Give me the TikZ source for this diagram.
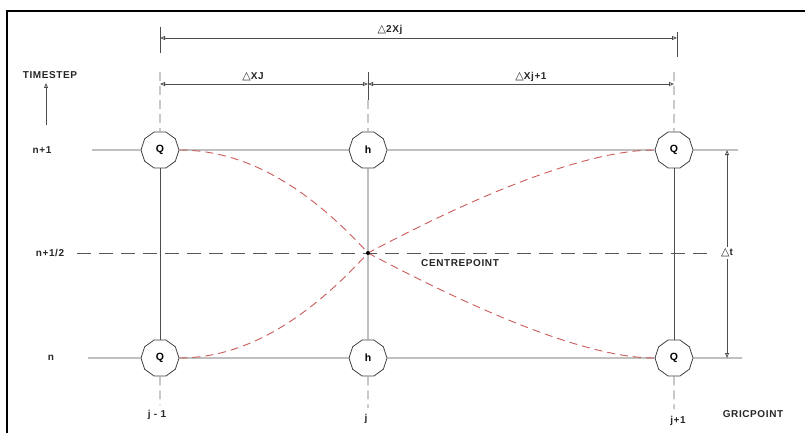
\documentclass[tikz,border=0pt]{standalone}
\usepackage{fontspec}
\setmainfont{Liberation Sans}
\newfontfamily\lblfont[LetterSpace=6]{Liberation Sans}
\newfontfamily\dv{DejaVu Sans}
\newcommand{\tri}{{\dv\mdseries\fontsize{11}{12}\selectfont △}}
\usetikzlibrary{shapes.geometric,arrows.meta}
\definecolor{curvered}{RGB}{200,90,90}
\begin{document}
\begin{tikzpicture}[x=1pt,y=-1pt,
  ln/.style={draw=black!70, line width=0.8pt},
  ext/.style={draw=black!60, line width=0.7pt, dash pattern=on 9pt off 5pt},
  halfline/.style={draw=black!65, line width=0.7pt, dash pattern=on 14pt off 8pt},
  gridpt/.style={regular polygon, regular polygon sides=10, draw=black!75, line width=0.8pt, fill=white, minimum size=38pt, inner sep=0pt, font=\bfseries\fontsize{10.5}{12}\selectfont},
  lbl/.style={font=\lblfont\bfseries\fontsize{10}{11}\selectfont, text=black!85, inner sep=1pt},
  tri/.tip={Triangle[open,length=5pt,width=4pt]},
  dimarr/.style={ln, tri-tri},
  curve/.style={draw=curvered, line width=0.9pt, dash pattern=on 8pt off 5pt}
]
\useasboundingbox (0,0) rectangle (805,433);
\draw[line width=2pt] (7,433) -- (7,11) -- (805,11);

% grid points
\node[gridpt] (Q1) at (160,150) {Q};
\node[gridpt] (h1) at (368,150) {h};
\node[gridpt] (Q2) at (674,150) {Q};
\node[gridpt] (Q3) at (160,358) {Q};
\node[gridpt] (h2) at (368,358) {h};
\node[gridpt] (Q4) at (674,358) {Q};
\coordinate (C) at (368,253);

% row coordinates
\coordinate (L1) at (92,150);
\coordinate (R1) at (738,150);
\coordinate (L0) at (88,358);
\coordinate (R0) at (742,358);
\coordinate (Lh) at (77,253);
\coordinate (Rh) at (713,253);

% horizontal lines
\draw[ln] (L1) -- (Q1.west);
\draw[ln] (Q1.east) -- (h1.west);
\draw[ln] (h1.east) -- (Q2.west);
\draw[ln] (Q2.east) -- (R1);
\draw[ln] (L0) -- (Q3.west);
\draw[ln] (Q3.east) -- (h2.west);
\draw[ln] (h2.east) -- (Q4.west);
\draw[ln] (Q4.east) -- (R0);
\draw[halfline] (Lh) -- (Rh);

% vertical lines
\draw[ln] (Q1.south) -- (Q3.north);
\draw[ln] (h1.south) -- (C) -- (h2.north);
\draw[ln] (Q2.south) -- (Q4.north);

% red curves
\draw[curve] (Q1.east) .. controls (243,150) and (305,184) .. (C) .. controls (500,323) and (596,358) .. (Q4.west);
\draw[curve] (Q3.east) .. controls (243,358) and (305,322) .. (C) .. controls (500,183) and (596,150) .. (Q2.west);
\fill (C) circle (2pt);
\node[lbl, anchor=west] (cp) at (420,263) {CENTREPOINT};

% extension lines above
\coordinate (e1) at (160,72);
\coordinate (e2) at (368,100);
\coordinate (e3) at (674,72);
\draw[ext] (e1) -- (Q1.north);
\draw[ext] (e2) -- (h1.north);
\draw[ext] (e3) -- (Q2.north);
\draw[ln] (368,72) -- (e2);
\draw[ln] (160,27) -- (160,53);
\draw[ln] (677,32) -- (677,57);

% extension lines below
\node[lbl] (jm) at (157,415) {j - 1};
\node[lbl] (jj) at (366,419) {j};
\node[lbl] (jp) at (678,421) {j+1};
\draw[ext] (Q3.south) -- (160,405);
\draw[ext] (h2.south) -- (368,408);
\draw[ext] (Q4.south) -- (674,409);
\node[lbl] (gp) at (753,414) {GRICPOINT};

% dimensions
\coordinate (d1a) at (160,38);
\coordinate (d1b) at (677,38);
\draw[dimarr] (d1a) -- (d1b);
\node[lbl] (d1) at (390,30) {\tri 2Xj};
\coordinate (d2a) at (160,84);
\coordinate (d2m) at (368,84);
\coordinate (d2b) at (674,84);
\draw[dimarr] (d2a) -- (d2m);
\draw[dimarr] (d2m) -- (d2b);
\node[lbl] (d2) at (253,77) {\tri XJ};
\node[lbl] (d3) at (531,77) {\tri Xj+1};

% delta t
\coordinate (ta) at (727,150);
\coordinate (tb) at (727,358);
\draw[dimarr] (ta) -- (tb);
\node[lbl, fill=white, inner sep=2pt] (dt) at (727,253) {\tri t};

% row labels
\node[lbl] (ts) at (50,75) {TIMESTEP};
\coordinate (tsa) at (46,125);
\coordinate (tsb) at (46,83);
\draw[ln, -tri] (tsa) -- (tsb);
\node[lbl] (r1) at (42,150) {n+1};
\node[lbl] (rh) at (50,253) {n+1/2};
\node[lbl] (r0) at (51,358) {n};
\end{tikzpicture}
\end{document}
